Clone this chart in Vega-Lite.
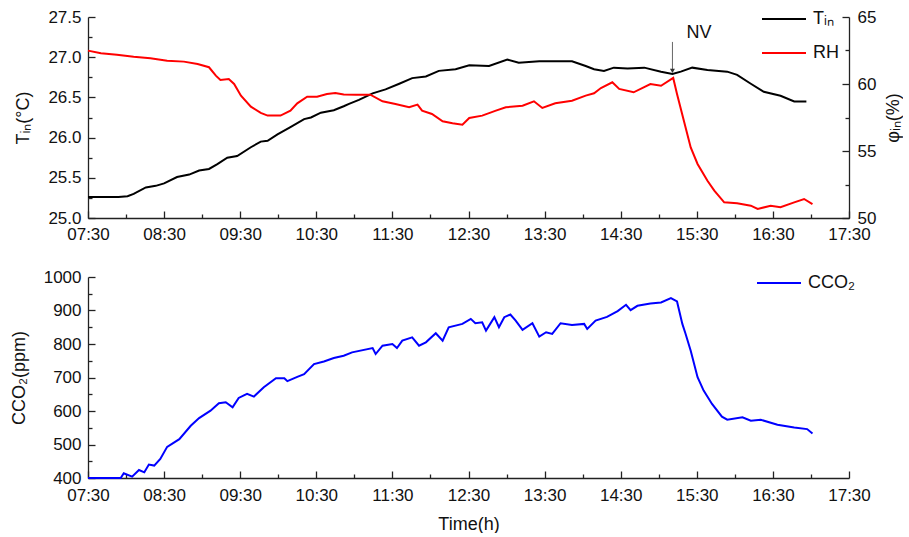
{
  "$schema": "https://vega.github.io/schema/vega-lite/v6.json",
  "padding": {"left": 10, "top": -4, "right": 0, "bottom": 0},
  "background": "white",
  "config": {
    "font": "Liberation Sans",
    "view": {"stroke": null},
    "axis": {"grid": false, "domainColor": "#222", "domainWidth": 1.3, "tickColor": "#222", "tickWidth": 1.3, "labelFont": "Liberation Sans", "labelFontSize": 17, "labelColor": "#111", "titleFont": "Liberation Sans", "titleFontSize": 18, "titleFontWeight": "normal", "titleColor": "#111", "labelFlush": false, "labelOverlap": false},
    "legend": {"labelFont": "Liberation Sans", "labelFontSize": 18, "labelColor": "#111", "symbolType": "stroke", "symbolSize": 1936, "symbolStrokeWidth": 2, "padding": 0, "labelOffset": 6, "title": null}
  },
  "datasets": {
    "tin": [
      {"t": 7.5, "v": 25.26}, {"t": 7.7, "v": 25.26}, {"t": 7.9, "v": 25.26}, {"t": 8.02, "v": 25.27}, {"t": 8.1, "v": 25.3}, {"t": 8.26, "v": 25.38}, {"t": 8.39, "v": 25.4}, {"t": 8.5, "v": 25.43}, {"t": 8.67, "v": 25.51}, {"t": 8.83, "v": 25.54}, {"t": 8.96, "v": 25.59}, {"t": 9.09, "v": 25.61}, {"t": 9.2, "v": 25.67}, {"t": 9.33, "v": 25.75}, {"t": 9.46, "v": 25.77}, {"t": 9.64, "v": 25.88}, {"t": 9.77, "v": 25.95}, {"t": 9.86, "v": 25.96}, {"t": 9.99, "v": 26.04}, {"t": 10.16, "v": 26.13}, {"t": 10.34, "v": 26.23}, {"t": 10.43, "v": 26.25}, {"t": 10.56, "v": 26.31}, {"t": 10.73, "v": 26.34}, {"t": 10.86, "v": 26.39}, {"t": 10.93, "v": 26.42}, {"t": 11.06, "v": 26.47}, {"t": 11.24, "v": 26.55}, {"t": 11.41, "v": 26.6}, {"t": 11.59, "v": 26.67}, {"t": 11.76, "v": 26.74}, {"t": 11.94, "v": 26.76}, {"t": 12.11, "v": 26.83}, {"t": 12.33, "v": 26.85}, {"t": 12.51, "v": 26.9}, {"t": 12.77, "v": 26.89}, {"t": 13.01, "v": 26.97}, {"t": 13.16, "v": 26.93}, {"t": 13.43, "v": 26.95}, {"t": 13.86, "v": 26.95}, {"t": 14.04, "v": 26.89}, {"t": 14.15, "v": 26.85}, {"t": 14.28, "v": 26.83}, {"t": 14.41, "v": 26.87}, {"t": 14.59, "v": 26.86}, {"t": 14.81, "v": 26.87}, {"t": 15.03, "v": 26.82}, {"t": 15.18, "v": 26.79}, {"t": 15.29, "v": 26.82}, {"t": 15.44, "v": 26.87}, {"t": 15.64, "v": 26.84}, {"t": 15.9, "v": 26.82}, {"t": 16.03, "v": 26.78}, {"t": 16.21, "v": 26.67}, {"t": 16.38, "v": 26.57}, {"t": 16.6, "v": 26.52}, {"t": 16.78, "v": 26.45}, {"t": 16.94, "v": 26.45}
    ],
    "rh": [
      {"t": 7.5, "v": 62.49}, {"t": 7.67, "v": 62.29}, {"t": 7.88, "v": 62.19}, {"t": 8.1, "v": 62.04}, {"t": 8.32, "v": 61.92}, {"t": 8.54, "v": 61.74}, {"t": 8.76, "v": 61.67}, {"t": 8.94, "v": 61.49}, {"t": 9.09, "v": 61.25}, {"t": 9.18, "v": 60.62}, {"t": 9.24, "v": 60.3}, {"t": 9.35, "v": 60.37}, {"t": 9.42, "v": 60.0}, {"t": 9.51, "v": 59.13}, {"t": 9.64, "v": 58.31}, {"t": 9.77, "v": 57.84}, {"t": 9.86, "v": 57.64}, {"t": 10.03, "v": 57.64}, {"t": 10.16, "v": 58.01}, {"t": 10.25, "v": 58.56}, {"t": 10.38, "v": 59.05}, {"t": 10.51, "v": 59.05}, {"t": 10.64, "v": 59.25}, {"t": 10.75, "v": 59.33}, {"t": 10.86, "v": 59.22}, {"t": 11.02, "v": 59.2}, {"t": 11.21, "v": 59.2}, {"t": 11.37, "v": 58.71}, {"t": 11.54, "v": 58.51}, {"t": 11.72, "v": 58.26}, {"t": 11.83, "v": 58.46}, {"t": 11.89, "v": 58.01}, {"t": 12.02, "v": 57.76}, {"t": 12.16, "v": 57.22}, {"t": 12.29, "v": 57.07}, {"t": 12.42, "v": 56.96}, {"t": 12.51, "v": 57.46}, {"t": 12.68, "v": 57.64}, {"t": 12.86, "v": 58.01}, {"t": 12.99, "v": 58.26}, {"t": 13.21, "v": 58.38}, {"t": 13.36, "v": 58.71}, {"t": 13.47, "v": 58.21}, {"t": 13.64, "v": 58.56}, {"t": 13.86, "v": 58.75}, {"t": 14.04, "v": 59.13}, {"t": 14.15, "v": 59.31}, {"t": 14.24, "v": 59.7}, {"t": 14.39, "v": 60.13}, {"t": 14.48, "v": 59.63}, {"t": 14.67, "v": 59.38}, {"t": 14.89, "v": 60.0}, {"t": 15.03, "v": 59.87}, {"t": 15.19, "v": 60.45}, {"t": 15.24, "v": 59.25}, {"t": 15.33, "v": 57.26}, {"t": 15.42, "v": 55.27}, {"t": 15.51, "v": 54.03}, {"t": 15.64, "v": 52.78}, {"t": 15.73, "v": 52.04}, {"t": 15.86, "v": 51.17}, {"t": 16.03, "v": 51.1}, {"t": 16.21, "v": 50.92}, {"t": 16.3, "v": 50.67}, {"t": 16.47, "v": 50.92}, {"t": 16.6, "v": 50.8}, {"t": 16.78, "v": 51.17}, {"t": 16.91, "v": 51.42}, {"t": 17.02, "v": 51.04}
    ],
    "co2": [
      {"t": 7.5, "v": 400}, {"t": 7.93, "v": 400}, {"t": 7.97, "v": 414}, {"t": 8.08, "v": 404}, {"t": 8.17, "v": 424}, {"t": 8.24, "v": 417}, {"t": 8.3, "v": 440}, {"t": 8.37, "v": 437}, {"t": 8.45, "v": 457}, {"t": 8.54, "v": 493}, {"t": 8.7, "v": 516}, {"t": 8.85, "v": 556}, {"t": 8.96, "v": 579}, {"t": 9.11, "v": 601}, {"t": 9.22, "v": 623}, {"t": 9.31, "v": 626}, {"t": 9.4, "v": 611}, {"t": 9.48, "v": 639}, {"t": 9.59, "v": 651}, {"t": 9.68, "v": 643}, {"t": 9.81, "v": 671}, {"t": 9.97, "v": 698}, {"t": 10.08, "v": 698}, {"t": 10.12, "v": 689}, {"t": 10.25, "v": 702}, {"t": 10.34, "v": 710}, {"t": 10.47, "v": 740}, {"t": 10.6, "v": 748}, {"t": 10.73, "v": 758}, {"t": 10.86, "v": 765}, {"t": 10.97, "v": 775}, {"t": 11.24, "v": 788}, {"t": 11.28, "v": 770}, {"t": 11.37, "v": 795}, {"t": 11.5, "v": 800}, {"t": 11.56, "v": 788}, {"t": 11.63, "v": 810}, {"t": 11.76, "v": 820}, {"t": 11.85, "v": 795}, {"t": 11.94, "v": 805}, {"t": 12.07, "v": 832}, {"t": 12.16, "v": 810}, {"t": 12.24, "v": 850}, {"t": 12.42, "v": 860}, {"t": 12.53, "v": 875}, {"t": 12.59, "v": 862}, {"t": 12.68, "v": 865}, {"t": 12.73, "v": 840}, {"t": 12.84, "v": 880}, {"t": 12.9, "v": 850}, {"t": 12.97, "v": 880}, {"t": 13.05, "v": 888}, {"t": 13.12, "v": 870}, {"t": 13.21, "v": 842}, {"t": 13.34, "v": 862}, {"t": 13.43, "v": 822}, {"t": 13.52, "v": 835}, {"t": 13.6, "v": 830}, {"t": 13.71, "v": 862}, {"t": 13.86, "v": 857}, {"t": 14.02, "v": 860}, {"t": 14.06, "v": 845}, {"t": 14.17, "v": 870}, {"t": 14.32, "v": 881}, {"t": 14.46, "v": 898}, {"t": 14.57, "v": 917}, {"t": 14.63, "v": 901}, {"t": 14.72, "v": 914}, {"t": 14.89, "v": 921}, {"t": 15.03, "v": 924}, {"t": 15.16, "v": 937}, {"t": 15.24, "v": 927}, {"t": 15.31, "v": 860}, {"t": 15.35, "v": 832}, {"t": 15.42, "v": 780}, {"t": 15.51, "v": 701}, {"t": 15.59, "v": 661}, {"t": 15.7, "v": 621}, {"t": 15.83, "v": 583}, {"t": 15.9, "v": 574}, {"t": 16.1, "v": 581}, {"t": 16.21, "v": 571}, {"t": 16.34, "v": 574}, {"t": 16.56, "v": 559}, {"t": 16.78, "v": 551}, {"t": 16.95, "v": 546}, {"t": 17.02, "v": 533}
    ]
  },
  "bounds": "flush",
  "spacing": 59,
  "resolve": {"scale": {"color": "independent"}, "legend": {"color": "independent"}},
  "vconcat": [
    {
      "width": 761,
      "height": 201,
      "resolve": {"scale": {"y": "independent"}, "axis": {"x": "independent", "y": "independent"}},
      "layer": [
        {
          "data": {"name": "tin"},
          "mark": {"type": "line", "strokeWidth": 2},
          "encoding": {
            "x": {"field": "t", "type": "quantitative", "scale": {"domain": [7.5, 17.5], "nice": false, "zero": false}, "axis": {"orient": "bottom", "values": [7.5, 8.5, 9.5, 10.5, 11.5, 12.5, 13.5, 14.5, 15.5, 16.5, 17.5], "labelExpr": "(datum.value < 10 ? '0' : '') + floor(datum.value) + ':30'", "tickSize": -7, "labelPadding": 15, "title": null}},
            "y": {"field": "v", "type": "quantitative", "scale": {"domain": [25, 27.5], "nice": false, "zero": false}, "axis": {"orient": "left", "values": [25, 25.5, 26, 26.5, 27, 27.5], "format": ".1f", "title": "Tᵢₙ(°C)", "tickSize": -7, "labelPadding": 14, "titlePadding": 15}},
            "color": {"datum": "Tᵢₙ", "type": "nominal", "scale": {"domain": ["Tᵢₙ", "RH"], "range": ["#000000", "#ff0000"]}, "legend": {"orient": "none", "legendX": 673, "legendY": -21, "direction": "vertical"}}
          }
        },
        {
          "data": {"name": "rh"},
          "mark": {"type": "line", "strokeWidth": 2},
          "encoding": {
            "x": {"field": "t", "type": "quantitative", "axis": null},
            "y": {"field": "v", "type": "quantitative", "scale": {"domain": [50, 65], "nice": false, "zero": false}, "axis": {"orient": "right", "values": [50, 55, 60, 65], "title": "φᵢₙ(%)", "titleAngle": 270, "tickSize": -7, "labelPadding": 15, "titlePadding": 27}},
            "color": {"datum": "RH", "type": "nominal"}
          }
        },
        {
          "data": {"values": []},
          "mark": {"type": "rule"},
          "encoding": {
            "x": {"field": "t", "type": "quantitative", "axis": {"orient": "bottom", "values": [8, 9, 10, 11, 12, 13, 14, 15, 16, 17], "labels": false, "domain": false, "tickSize": -4, "title": null}},
            "y": {"field": "v", "type": "quantitative", "scale": {"domain": [25, 27.5], "nice": false, "zero": false}, "axis": {"orient": "left", "values": [25.25, 25.75, 26.25, 26.75, 27.25], "labels": false, "domain": false, "tickSize": -4, "title": null}}
          }
        },
        {
          "data": {"values": []},
          "mark": {"type": "rule"},
          "encoding": {
            "x": {"field": "t", "type": "quantitative", "axis": null},
            "y": {"field": "v", "type": "quantitative", "scale": {"domain": [50, 65], "nice": false, "zero": false}, "axis": {"orient": "right", "values": [52.5, 57.5, 62.5], "labels": false, "domain": false, "tickSize": -4, "title": null}}
          }
        },
        {
          "data": {"values": [{"t": 15.53, "v": 27.3, "label": "NV"}]},
          "mark": {"type": "text", "fontSize": 18, "color": "#111", "font": "Liberation Sans"},
          "encoding": {
            "x": {"field": "t", "type": "quantitative", "axis": null},
            "y": {"field": "v", "type": "quantitative", "scale": {"domain": [25, 27.5], "nice": false, "zero": false}, "axis": null},
            "text": {"field": "label"}
          }
        },
        {
          "data": {"values": [{"t": 15.18, "v": 27.19, "v2": 26.84}]},
          "mark": {"type": "rule", "color": "#666", "strokeWidth": 1},
          "encoding": {
            "x": {"field": "t", "type": "quantitative", "axis": null},
            "y": {"field": "v", "type": "quantitative", "scale": {"domain": [25, 27.5], "nice": false, "zero": false}, "axis": null},
            "y2": {"field": "v2"}
          }
        },
        {
          "data": {"values": [{"t": 15.18, "v": 26.83}]},
          "mark": {"type": "point", "shape": "triangle-down", "filled": true, "size": 25, "color": "#333", "opacity": 1},
          "encoding": {
            "x": {"field": "t", "type": "quantitative", "axis": null},
            "y": {"field": "v", "type": "quantitative", "scale": {"domain": [25, 27.5], "nice": false, "zero": false}, "axis": null}
          }
        }
      ]
    },
    {
      "width": 761,
      "height": 201,
      "resolve": {"axis": {"x": "independent", "y": "independent"}},
      "layer": [
        {
          "data": {"name": "co2"},
          "mark": {"type": "line", "strokeWidth": 2},
          "encoding": {
            "x": {"field": "t", "type": "quantitative", "scale": {"domain": [7.5, 17.5], "nice": false, "zero": false}, "axis": {"orient": "bottom", "values": [7.5, 8.5, 9.5, 10.5, 11.5, 12.5, 13.5, 14.5, 15.5, 16.5, 17.5], "labelExpr": "(datum.value < 10 ? '0' : '') + floor(datum.value) + ':30'", "tickSize": -7, "labelPadding": 16, "title": "Time(h)", "titlePadding": 12}},
            "y": {"field": "v", "type": "quantitative", "scale": {"domain": [400, 1000], "nice": false, "zero": false}, "axis": {"orient": "left", "values": [400, 500, 600, 700, 800, 900, 1000], "format": "d", "title": "CCO₂(ppm)", "tickSize": -7, "labelPadding": 14, "titlePadding": 15}},
            "color": {"datum": "CCO₂", "type": "nominal", "scale": {"domain": ["CCO₂"], "range": ["#0000ff"]}, "legend": {"orient": "none", "legendX": 668, "legendY": -17}}
          }
        },
        {
          "data": {"values": []},
          "mark": {"type": "rule"},
          "encoding": {
            "x": {"field": "t", "type": "quantitative", "axis": {"orient": "bottom", "values": [8, 9, 10, 11, 12, 13, 14, 15, 16, 17], "labels": false, "domain": false, "tickSize": -4, "title": null}},
            "y": {"field": "v", "type": "quantitative", "axis": {"orient": "left", "values": [450, 550, 650, 750, 850, 950], "labels": false, "domain": false, "tickSize": -4, "title": null}}
          }
        }
      ]
    }
  ]
}
